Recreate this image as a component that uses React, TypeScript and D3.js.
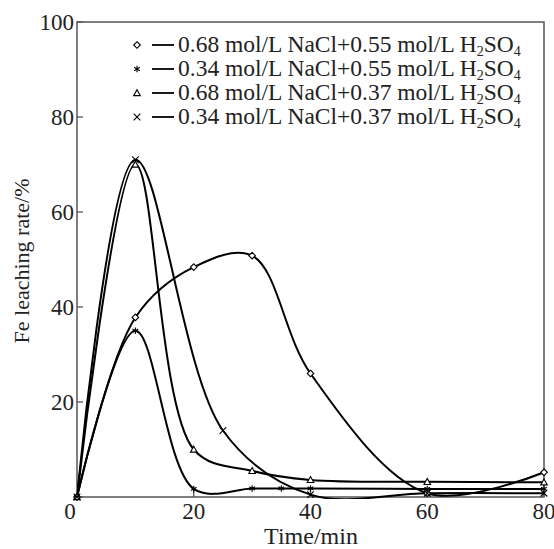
import React from "react";
import * as d3 from "d3";

const xTicks = [0, 20, 40, 60, 80];
const yTicks = [0, 20, 40, 60, 80, 100];

const s1x = [0, 10, 20, 30, 40, 60, 80];
const s1y = [0, 37.8, 48.4, 50.8, 26, 0.8, 5.2];
const s2x = [0, 10, 20, 30, 35, 40, 60, 80];
const s2y = [0, 35, 1.7, 1.8, 1.8, 1.8, 1.7, 1.7];
const s3x = [0, 10, 20, 30, 40, 60, 80];
const s3y = [0, 70, 10, 5.5, 3.6, 3.2, 3.1];
const s4x = [0, 10, 25, 40, 60, 80];
const s4y = [0, 71, 14, 0.5, 0.8, 0.8];

const labels = [
  ["0.68 mol/L NaCl+0.55 mol/L H", "SO"],
  ["0.34 mol/L NaCl+0.55 mol/L H", "SO"],
  ["0.68 mol/L NaCl+0.37 mol/L H", "SO"],
  ["0.34 mol/L NaCl+0.37 mol/L H", "SO"],
];
const markers = ["diamond", "asterisk", "triangle", "cross"];

const W = 554, H = 549;
const L = 77, T = 22, R = 544, B = 497;
const FONT = "'Liberation Serif', 'Times New Roman', serif";

function Marker({ type, x, y }: { type: string; x: number; y: number }) {
  const s = 3.3;
  if (type === "diamond")
    return <path d={`M${x},${y - s}L${x + s},${y}L${x},${y + s}L${x - s},${y}Z`} fill="#fff" stroke="#000" strokeWidth={1.1} />;
  if (type === "triangle")
    return <path d={`M${x},${y - s}L${x + s},${y + s * 0.8}L${x - s},${y + s * 0.8}Z`} fill="#fff" stroke="#000" strokeWidth={1.1} />;
  if (type === "cross")
    return <path d={`M${x - s},${y - s}L${x + s},${y + s}M${x - s},${y + s}L${x + s},${y - s}`} stroke="#000" strokeWidth={1.1} />;
  const a = s * 0.87;
  return <path d={`M${x},${y - s}L${x},${y + s}M${x - a},${y - s / 2}L${x + a},${y + s / 2}M${x - a},${y + s / 2}L${x + a},${y - s / 2}`} stroke="#000" strokeWidth={1.1} />;
}

export default function App() {
  const x = d3.scaleLinear().domain([0, 80]).range([L, R]);
  const y = d3.scaleLinear().domain([0, 100]).range([B, T]);
  const series = [
    { xs: s1x, ys: s1y },
    { xs: s2x, ys: s2y },
    { xs: s3x, ys: s3y },
    { xs: s4x, ys: s4y },
  ];
  const line = d3
    .line<[number, number]>()
    .x((d) => x(d[0]))
    .y((d) => y(d[1]))
    .curve(d3.curveCatmullRom.alpha(0.5));

  return (
    <svg width={W} height={H} style={{ position: "absolute", left: 0, top: 0, background: "#fff" }} fontFamily={FONT}>
      <rect x={0} y={0} width={W} height={H} fill="#fff" />
      <defs>
        <clipPath id="plot">
          <rect x={L} y={T} width={R - L} height={B - T + 2} />
        </clipPath>
      </defs>
      <rect x={L} y={T} width={R - L} height={B - T} fill="none" stroke="#555" strokeWidth={1.5} />
      {yTicks.map((t) => (
        <g key={"y" + t}>
          <line x1={L} x2={L + 6} y1={y(t)} y2={y(t)} stroke="#555" strokeWidth={1.3} />
          {t !== 0 && (
            <text x={L - 3} y={y(t) + 8} textAnchor="end" fontSize={23} fill="#222">
              {t}
            </text>
          )}
        </g>
      ))}
      {xTicks.map((t) => (
        <g key={"x" + t}>
          <line x1={x(t)} x2={x(t)} y1={B} y2={B - 7} stroke="#555" strokeWidth={1.3} />
          <text x={x(t) - (t === 0 ? 7 : 0)} y={B + 22} textAnchor="middle" fontSize={23} fill="#222">
            {t}
          </text>
        </g>
      ))}
      <text x={311} y={544} textAnchor="middle" fontSize={24} fill="#222">
        Time/min
      </text>
      <text transform={`translate(29,${261}) rotate(-90)`} textAnchor="middle" fontSize={22} fill="#222">
        Fe leaching rate/%
      </text>
      <g clipPath="url(#plot)">
        {series.map((s, i) => (
          <path
            key={"l" + i}
            d={line(s.xs.map((v, j) => [v, s.ys[j]] as [number, number])) || ""}
            fill="none"
            stroke="#000"
            strokeWidth={2}
          />
        ))}
      </g>
      {series.map((s, i) =>
        s.xs.map((v, j) => <Marker key={`m${i}-${j}`} type={markers[i]} x={x(v)} y={y(s.ys[j])} />)
      )}
      {labels.map((lb, i) => {
        const yy = 45 + i * 24;
        return (
          <g key={"lg" + i}>
            <Marker type={markers[i]} x={137} y={yy} />
            <line x1={152} x2={174} y1={yy} y2={yy} stroke="#000" strokeWidth={1.8} />
            <text x={178} y={yy + 7} fontSize={23.5} fill="#222">
              {lb[0]}
              <tspan fontSize={14} dy={4}>2</tspan>
              <tspan dy={-4}>{lb[1]}</tspan>
              <tspan fontSize={14} dy={4}>4</tspan>
            </text>
          </g>
        );
      })}
    </svg>
  );
}
